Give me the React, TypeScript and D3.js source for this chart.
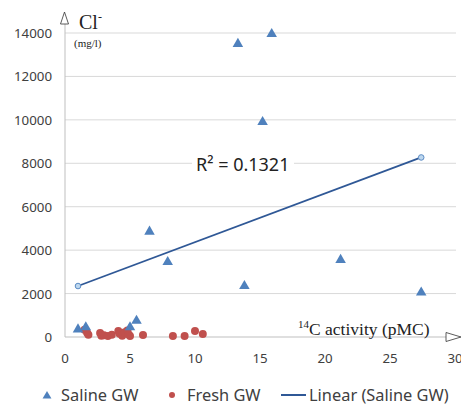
import React from "react";
import * as d3 from "d3";

// Saline groundwater samples (14C pMC vs Cl mg/l)
const salineX = [1.0, 1.6, 5.0, 5.5, 6.5, 7.9, 13.3, 15.9, 15.2, 13.8, 21.2, 27.4];
const salineY = [350, 450, 450, 750, 4850, 3450, 13500, 13950, 9900, 2350, 3550, 2050];

// Fresh groundwater samples
const freshX = [1.5, 1.7, 1.8, 2.7, 2.8, 3.0, 3.3, 3.6, 4.1, 4.2, 4.4, 4.6, 4.8, 4.9, 5.0, 6.0, 8.3, 9.2, 10.0, 10.6];
const freshY = [330, 200, 100, 180, 60, 80, 50, 100, 280, 150, 60, 220, 300, 120, 50, 90, 50, 50, 280, 140];

const xTicks = [0, 5, 10, 15, 20, 25, 30];
const yTicks = [0, 2000, 4000, 6000, 8000, 10000, 12000, 14000];
const r2Label = "R² = 0.1321";

const W = 461;
const H = 407;
const margin = { left: 65, right: 6, top: 33, bottom: 70 };

const BLUE = "#4F81BD";
const RED = "#C0504D";
const TREND = "#2F5896";
const GRID = "#D9D9D9";
const TXT = "#404040";
const SANS = "'Noto Sans', 'Open Sans', sans-serif";
const SERIF = "'Liberation Serif', 'DejaVu Serif', serif";

const App = () => {
  const x = d3.scaleLinear().domain([0, 30]).range([margin.left, 455]);
  const y = d3.scaleLinear().domain([0, 14000]).range([H - margin.bottom, margin.top]);

  // least squares trendline for the saline series
  const mx = d3.mean(salineX) as number;
  const my = d3.mean(salineY) as number;
  let sxy = 0;
  let sxx = 0;
  salineX.forEach((v, i) => {
    sxy += (v - mx) * (salineY[i] - my);
    sxx += (v - mx) * (v - mx);
  });
  const slope = sxy / sxx;
  const icpt = my - slope * mx;
  const [x0, x1] = d3.extent(salineX) as [number, number];
  const trend: [number, number][] = [
    [x0, icpt + slope * x0],
    [x1, icpt + slope * x1],
  ];
  const line = d3
    .line<[number, number]>()
    .x((d) => x(d[0]))
    .y((d) => y(d[1]));

  const tri = d3.symbol().type(d3.symbolTriangle).size(48)() as string;
  const triSmall = d3.symbol().type(d3.symbolTriangle).size(34)() as string;

  const x0px = x(0);
  const y0px = y(0);

  return (
    <svg
      width={W}
      height={H}
      style={{ position: "absolute", left: 0, top: 0, background: "#fff" }}
      fontFamily={SANS}
    >
      {/* gridlines */}
      {yTicks
        .filter((t) => t > 0)
        .map((t) => (
          <line key={"g" + t} x1={x0px} x2={456} y1={y(t)} y2={y(t)} stroke={GRID} strokeWidth={1} />
        ))}

      {/* axes */}
      <line x1={x0px} x2={x0px} y1={24} y2={y0px} stroke="#BFBFBF" strokeWidth={1} />
      <line x1={x0px} x2={446} y1={y0px} y2={y0px} stroke="#BFBFBF" strokeWidth={1} />
      <path d={`M${x0px - 0.5},12 L${x0px - 4.5},24 L${x0px + 3.5},24 Z`} fill="#fff" stroke="#333" strokeWidth={0.8} />
      <path d={`M446,332.5 L461,${y0px} L446,341.5 Z`} fill="#fff" stroke="#333" strokeWidth={0.8} />

      {/* tick labels */}
      {yTicks.map((t) => (
        <text key={"y" + t} x={52} y={y(t) + 5} textAnchor="end" fontSize={13.3} fill={TXT}>
          {t}
        </text>
      ))}
      {xTicks.map((t) => (
        <text key={"x" + t} x={x(t)} y={363} textAnchor="middle" fontSize={13.3} fill={TXT}>
          {t}
        </text>
      ))}

      {/* axis titles */}
      <text x={79} y={29} fontFamily={SERIF} fontSize={20} fill="#222">
        Cl
        <tspan fontSize={12} dy={-8}>
          -
        </tspan>
      </text>
      <text x={74} y={47} fontFamily={SERIF} fontSize={11} fill="#222">
        (mg/l)
      </text>
      <text x={298} y={335} fontFamily={SERIF} fontSize={17.5} fill="#222">
        <tspan fontSize={11} dy={-7}>
          14
        </tspan>
        <tspan dy={7}>C activity (pMC)</tspan>
      </text>

      {/* fresh GW */}
      {freshX.map((v, i) => (
        <circle key={"f" + i} cx={x(v)} cy={y(freshY[i])} r={4} fill={RED} />
      ))}

      {/* saline GW */}
      {salineX.map((v, i) => (
        <path key={"s" + i} d={tri} transform={`translate(${x(v)},${y(salineY[i])})`} fill={BLUE} />
      ))}

      {/* trendline */}
      <path d={line(trend) as string} fill="none" stroke={TREND} strokeWidth={1.8} />
      {trend.map((d, i) => (
        <circle key={"t" + i} cx={x(d[0])} cy={y(d[1])} r={2.8} fill="#BDD7EE" stroke="#5B8BC4" strokeWidth={1} />
      ))}

      {/* R² label */}
      <rect x={192} y={152} width={102} height={24} fill="#fff" />
      <text x={196} y={171} fontSize={18} fill="#222">
        {r2Label}
      </text>

      {/* legend */}
      <g fontSize={16.4} fill={TXT}>
        <path d={triSmall} transform="translate(47,396)" fill={BLUE} />
        <text x={61} y={401}>Saline GW</text>
        <circle cx={172} cy={395} r={3} fill={RED} />
        <text x={187} y={401}>Fresh GW</text>
        <line x1={281} x2={306} y1={395} y2={395} stroke={TREND} strokeWidth={2} />
        <text x={309} y={401}>Linear (Saline GW)</text>
      </g>
    </svg>
  );
};

export default App;
